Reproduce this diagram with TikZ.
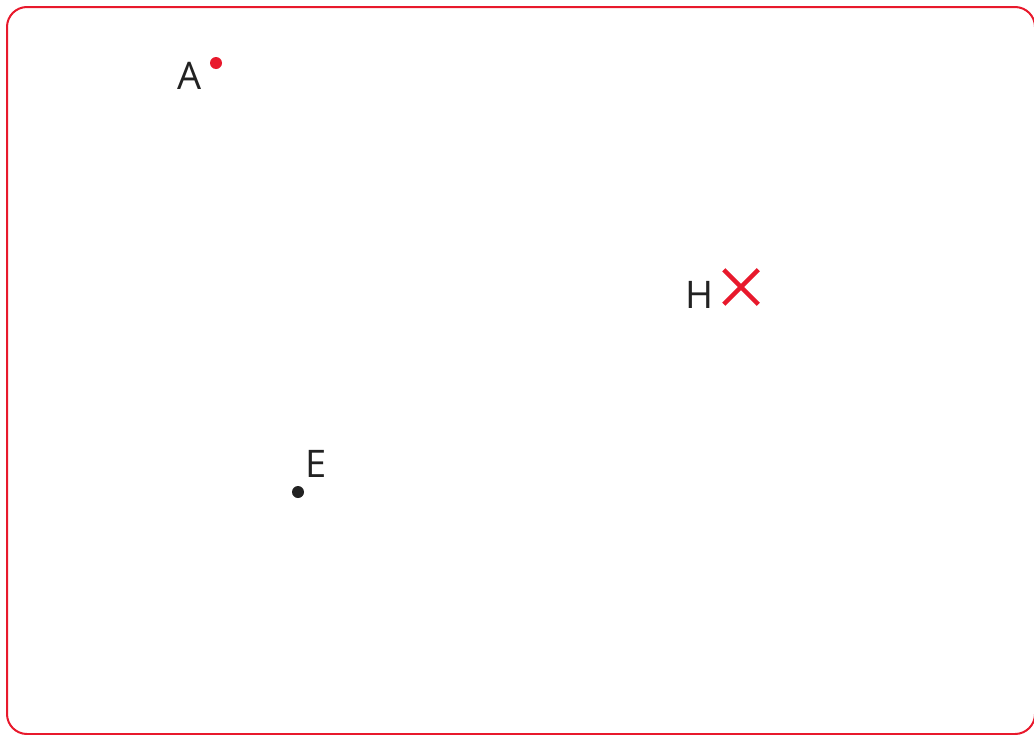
\documentclass[tikz,border=0pt]{standalone}
\usepackage{fontspec}
\setmainfont{Open Sans}
\usetikzlibrary{shapes.misc}
\definecolor{mred}{HTML}{E8192C}
\definecolor{ink}{HTML}{222222}
\tikzset{
  frame/.style={draw=mred, line width=2pt, rounded corners=20pt, fill=white},
  lbl/.style={inner sep=0pt, text=ink, font=\fontsize{38pt}{42pt}\selectfont, anchor=base west},
  dotpt/.style={circle, inner sep=0pt, minimum size=12pt},
  xmark/.style={cross out, draw=mred, line width=4.5pt, inner sep=0pt, minimum size=30pt}
}
\begin{document}
\begin{tikzpicture}[x=1pt, y=-1pt]
\useasboundingbox (0,0) rectangle (1034,734);
\draw[frame] (7,7) rectangle (1035,734);
\node[dotpt, fill=mred] (A) at (216,63) {};
\node[lbl] (Alabel) at (177,89) {A};
\node[xmark] (H) at (741,287) {};
\node[lbl] (Hlabel) at (685,308) {H};
\node[dotpt, fill=ink] (E) at (298,492) {};
\node[lbl] (Elabel) at (305,477) {E};
\end{tikzpicture}
\end{document}
